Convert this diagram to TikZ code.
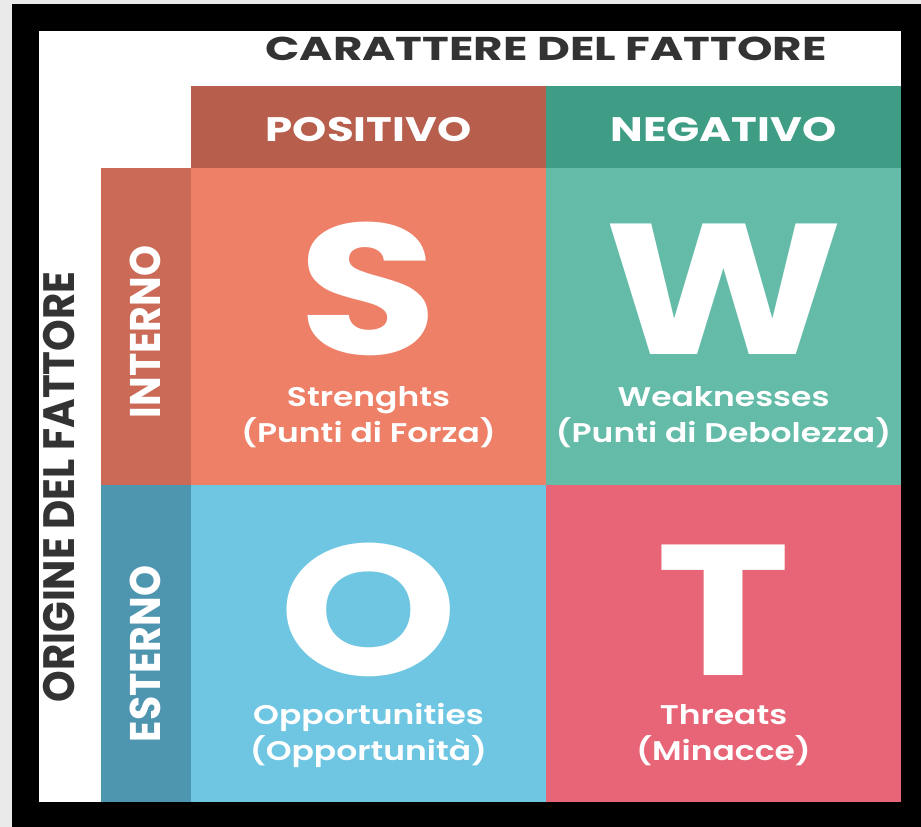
\documentclass[tikz,border=0pt]{standalone}
\usepackage{fontspec}
\setmainfont{Poppins}
\newfontfamily\capfont{Poppins SemiBold}
\usepackage{tikz}

\definecolor{paper}{HTML}{EAEAEA}
\definecolor{titlegray}{HTML}{333333}
\definecolor{posHead}{HTML}{B75E4C}
\definecolor{negHead}{HTML}{3F9D85}
\definecolor{intSide}{HTML}{CA6A57}
\definecolor{estSide}{HTML}{4E96B0}
\definecolor{cellS}{HTML}{EE8068}
\definecolor{cellW}{HTML}{63BBA8}
\definecolor{cellO}{HTML}{6FC6E2}
\definecolor{cellT}{HTML}{E86577}

\tikzset{
  box/.style={inner sep=0pt, outer sep=0pt, anchor=north west},
  cell/.style={box, minimum width=355pt, minimum height=317pt},
  head/.style={box, minimum width=355pt, minimum height=82pt},
  side/.style={box, minimum width=90pt, minimum height=317pt},
  titletxt/.style={text=titlegray, font=\bfseries\fontsize{33}{33}\selectfont, xscale=1.37},
  vtitletxt/.style={text=titlegray, font=\bfseries\fontsize{33}{33}\selectfont, xscale=1.33, yscale=1.22, rotate=90},
  headtxt/.style={text=white, font=\bfseries\fontsize{34}{34}\selectfont, xscale=1.28},
  sidetxt/.style={text=white, font=\bfseries\fontsize{34}{34}\selectfont, xscale=1.26, yscale=1.16, rotate=90},
  bigtxt/.style={text=white, font=\bfseries\fontsize{186}{186}\selectfont, xscale=1.22, anchor=base},
  captxt/.style={text=white, font=\capfont\fontsize{27}{36}\selectfont, xscale=1.22, align=center, anchor=base}
}

\begin{document}
\begin{tikzpicture}[x=1pt, y=-1pt]
    \useasboundingbox (0,0) rectangle (921,827);

    % frame
    \fill[paper] (0,0) rectangle (921,827);
    \fill[black] (12,4) rectangle (921,827);
    \fill[white] (39,31) rectangle (901,802);

    % the boxes
    \node[head, fill=posHead] (pos) at (191,86) {};
    \node[head, fill=negHead] (neg) at (546,86) {};
    \node[side, fill=intSide] (int) at (101,168) {};
    \node[side, fill=estSide] (est) at (101,485) {};
    \node[cell, fill=cellS] (S) at (191,168) {};
    \node[cell, fill=cellW] (W) at (546,168) {};
    \node[cell, fill=cellO] (O) at (191,485) {};
    \node[cell, fill=cellT] (T) at (546,485) {};

    % the texts
    \node[titletxt] (car) at (546,49) {CARATTERE DEL FATTORE};
    \node[vtitletxt] (ori) at (59,487) {ORIGINE DEL FATTORE};
    \node[headtxt] (postxt) at (368.5,130) {POSITIVO};
    \node[headtxt] (negtxt) at (723.5,130) {NEGATIVO};
    \node[sidetxt] (inttxt) at (145.5,332) {INTERNO};
    \node[sidetxt] (esttxt) at (145.5,654) {ESTERNO};

    \node[bigtxt] (letS) at (368.5,354) {S};
    \node[bigtxt] (letW) at (723.5,354) {W};
    \node[bigtxt] (letO) at (368.5,675) {O};
    \node[bigtxt] (letT) at (723.5,675) {T};

    \node[captxt] (capS) at (368.5,442) {Strenghts\\(Punti di Forza)};
    \node[captxt] (capW) at (723.5,442) {Weaknesses\\(Punti di Debolezza)};
    \node[captxt] (capO) at (368.5,760) {Opportunities\\(Opportunità)};
    \node[captxt] (capT) at (723.5,760) {Threats\\(Minacce)};

\end{tikzpicture}
\end{document}
